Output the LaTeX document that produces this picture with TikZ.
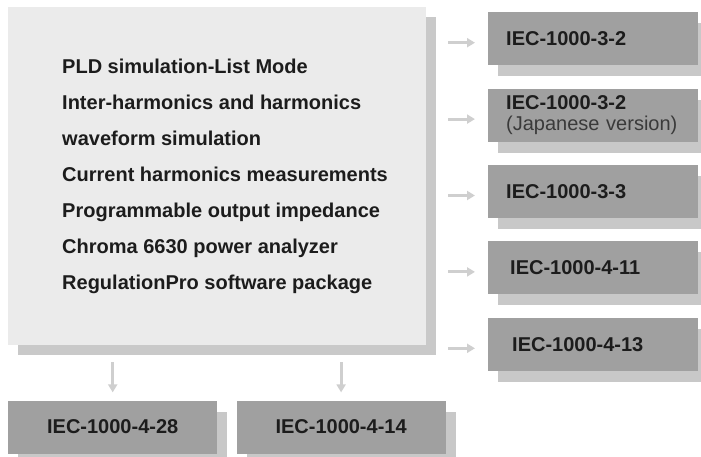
\documentclass[tikz,border=0pt]{standalone}
\usepackage{fontspec}
\setmainfont{Liberation Sans}
\usetikzlibrary{arrows.meta, positioning, shadows}
\definecolor{panelgray}{RGB}{235,235,235}
\definecolor{panelshadow}{RGB}{201,201,201}
\definecolor{stdgray}{RGB}{160,160,160}
\definecolor{stdshadow}{RGB}{200,200,200}
\definecolor{arrowgray}{RGB}{207,207,207}
\definecolor{inkgray}{RGB}{28,28,28}
\definecolor{notegray}{RGB}{58,58,58}

\begin{document}
\begin{tikzpicture}[
  node distance=23pt,
  panel/.style={rectangle, fill=panelgray, draw=none, minimum width=418pt, minimum height=338pt, inner sep=0pt,
    drop shadow={shadow xshift=10pt, shadow yshift=-10pt, fill=panelshadow, opacity=1}},
  features/.style={align=left, inner sep=0pt, text=inkgray, font=\fontsize{20}{36}\selectfont\bfseries},
  standard/.style={rectangle, fill=stdgray, draw=none, minimum height=53pt, inner ysep=0pt, text=inkgray,
    drop shadow={shadow xshift=10pt, shadow yshift=-11pt, fill=stdshadow, opacity=1},
    font=\fontsize{20}{21}\selectfont\bfseries},
  side/.style={standard, text width=180pt, inner xsep=15pt, align=left},
  bottom/.style={standard, minimum width=209pt, inner xsep=0pt},
  arrow/.style={-{Triangle[length=8pt, width=9pt]}, line width=3pt, arrowgray}
]
  \useasboundingbox (0,0) rectangle (701pt,-457pt);

  % Feature panel
  \node[panel, anchor=north west] (main) at (8pt,-7pt) {};
  \node[features, anchor=west] (list) at ([xshift=54pt]main.west)
    {PLD simulation-List Mode\\
     Inter-harmonics and harmonics\\
     waveform simulation\\
     Current harmonics measurements\\
     Programmable output impedance\\
     Chroma 6630 power analyzer\\
     RegulationPro software package};

  % Standards on the right
  \node[side, anchor=north west] (r1) at (488pt,-12pt) {\hspace*{3pt}IEC-1000-3-2};
  \node[side, below=of r1] (r2) {\hspace*{3pt}IEC-1000-3-2\\\hspace*{3pt}{\mdseries\color{notegray}(Japanese version)}};
  \node[side, below=of r2] (r3) {\hspace*{3pt}IEC-1000-3-3};
  \node[side, below=of r3] (r4) {\hspace*{7pt}IEC-1000-4-11};
  \node[side, below=of r4] (r5) {\hspace*{9pt}IEC-1000-4-13};

  % Standards below
  \node[bottom, below=55pt of main.south west, anchor=north west] (b1) {IEC-1000-4-28};
  \node[bottom, right=19pt of b1] (b2) {IEC-1000-4-14};

  % Arrows
  \draw[arrow, shorten >=13pt] ([xshift=-40pt, yshift=-4pt]r1.west) -- ([yshift=-4pt]r1.west);
  \draw[arrow, shorten >=13pt] ([xshift=-40pt, yshift=-4pt]r2.west) -- ([yshift=-4pt]r2.west);
  \draw[arrow, shorten >=13pt] ([xshift=-40pt, yshift=-4pt]r3.west) -- ([yshift=-4pt]r3.west);
  \draw[arrow, shorten >=13pt] ([xshift=-40pt, yshift=-4pt]r4.west) -- ([yshift=-4pt]r4.west);
  \draw[arrow, shorten >=13pt] ([xshift=-40pt, yshift=-4pt]r5.west) -- ([yshift=-4pt]r5.west);

  \coordinate[above=38pt of b1.north] (b1in);
  \coordinate[above=38pt of b2.north] (b2in);
  \draw[arrow, shorten >=8pt] (b1in) -- (b1.north);
  \draw[arrow, shorten >=8pt] (b2in) -- (b2.north);
\end{tikzpicture}
\end{document}
